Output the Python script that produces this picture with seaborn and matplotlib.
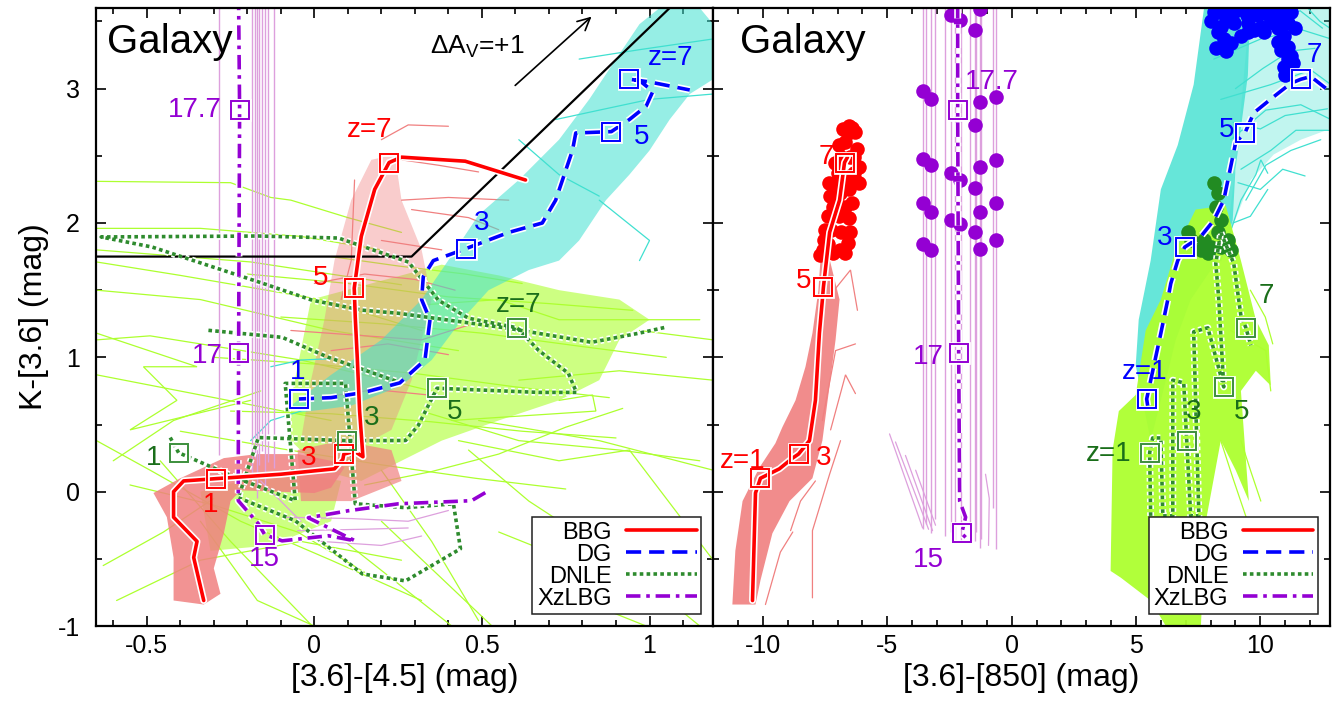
import matplotlib
matplotlib.use("Agg")
import matplotlib.pyplot as plt
import matplotlib.patheffects as pe
from matplotlib.lines import Line2D
from matplotlib.ticker import MultipleLocator, FuncFormatter
import seaborn as sns

sns.set_theme(style="ticks")
plt.rcParams["font.family"] = ["Liberation Sans", "DejaVu Sans"]
plt.rcParams["mathtext.fontset"] = "custom"
plt.rcParams["mathtext.rm"] = "Liberation Sans"
plt.rcParams["mathtext.it"] = "Liberation Sans:italic"
plt.rcParams["axes.edgecolor"] = "black"
plt.rcParams["text.color"] = "black"
plt.rcParams["axes.labelcolor"] = "black"
plt.rcParams["xtick.color"] = "black"
plt.rcParams["ytick.color"] = "black"

C_BBG, C_DG, C_DNLE, C_XZ = "#FF0000", "#0000FF", "#2E8B2E", "#9400D3"
C_DNLE_TXT, C_DNLE_SQ = "#1A6E1A", "#3C8F3C"
C_SAL, C_TURQ, C_GY, C_PLUM = "#F08080", "#40E0D0", "#ADFF2F", "#DDA0DD"

SERIES = ["BBG", "DG", "DNLE", "XzLBG"]

# ------------------------------------------------------------------
# Left panel: K-[3.6] versus [3.6]-[4.5]
# ------------------------------------------------------------------
BBG_L_X = [-0.33, -0.36, -0.35, -0.42, -0.42, -0.39, -0.294, -0.10, 0.06, 0.085, 0.088,
           0.12, 0.145, 0.135, 0.128, 0.122, 0.119, 0.14, 0.18, 0.223, 0.26, 0.45, 0.63]
BBG_L_Y = [-0.81, -0.49, -0.37, -0.19, 0.0, 0.08, 0.097, 0.13, 0.17, 0.24, 0.28,
           0.30, 0.26, 0.6, 1.0, 1.3, 1.515, 1.9, 2.25, 2.45, 2.49, 2.46, 2.32]
BBG_L_SQ_X = [-0.294, 0.088, 0.119, 0.223]
BBG_L_SQ_Y = [0.097, 0.28, 1.515, 2.45]

DG_L_X = [-0.046, 0.05, 0.15, 0.255, 0.33, 0.345, 0.32, 0.325, 0.355, 0.453, 0.58, 0.68,
          0.72, 0.77, 0.78, 0.886, 0.94, 0.99, 1.01, 0.97, 0.94, 1.0, 1.12]
DG_L_Y = [0.69, 0.70, 0.74, 0.81, 0.98, 1.28, 1.43, 1.60, 1.72, 1.81, 1.93, 2.0,
          2.17, 2.54, 2.67, 2.68, 2.77, 2.87, 2.98, 3.06, 3.07, 3.05, 2.99]
DG_L_SQ_X = [-0.046, 0.453, 0.886, 0.94]
DG_L_SQ_Y = [0.69, 1.81, 2.68, 3.07]

DNLE_L_X = [-0.430, -0.405, -0.227, -0.057, -0.087, 0.093, 0.122, 0.272, 0.415, 0.436,
            0.272, 0.143, -0.057, -0.227, -0.167, 0.097, 0.272, 0.310, 0.366, 0.669,
            0.782, 0.758, 0.669, 0.605, 0.460, 0.370, 0.281, 0.072, -0.167, -0.636,
            -0.484, -0.155, -0.006, 0.143, 0.251, 0.579, 0.827, 0.967, 1.048]
DNLE_L_Y = [0.403, 0.29, 0.097, -0.067, 0.806, 0.806, -0.090, -0.119, -0.090, -0.425,
            -0.664, -0.612, -0.216, -0.045, 0.403, 0.38, 0.381, 0.493, 0.77, 0.739,
            0.739, 0.881, 1.052, 1.22, 1.291, 1.425, 1.709, 1.888, 1.903, 1.896,
            1.821, 1.552, 1.425, 1.351, 1.328, 1.216, 1.112, 1.179, 1.224]
DNLE_L2_X = [-0.316, -0.096, 0.042, 0.263]
DNLE_L2_Y = [1.201, 1.149, 1.0, 0.806]
DNLE_L_SQ_X = [-0.405, 0.097, 0.366, 0.605]
DNLE_L_SQ_Y = [0.29, 0.38, 0.77, 1.22]

XZ_L_X = [0.510, 0.469, 0.251, 0.101, -0.018, 0.122, 0.042, -0.096, -0.148, -0.167,
          -0.227, -0.227, -0.226, -0.223, -0.226]
XZ_L_Y = [-0.007, -0.067, -0.090, -0.142, -0.194, -0.366, -0.328, -0.366, -0.32, -0.239,
          -0.067, 0.134, 1.03, 2.84, 3.66]
XZ_L_SQ_X = [-0.148, -0.226, -0.223]
XZ_L_SQ_Y = [-0.32, 1.03, 2.84]

# redshift labels: (x, y, text)
LAB_L = {
    "BBG": [(0.166, 2.69, "z=7"), (0.02, 1.59, "5"), (-0.016, 0.25, "3"), (-0.31, -0.10, "1")],
    "DG": [(1.063, 3.23, "z=7"), (0.976, 2.64, "5"), (0.50, 2.0, "3"), (-0.05, 0.89, "1")],
    "DNLE": [(0.61, 1.39, "z=7"), (0.418, 0.59, "5"), (0.17, 0.545, "3"), (-0.48, 0.25, "1")],
    "XzLBG": [(-0.357, 2.84, "17.7"), (-0.32, 1.01, "17"), (-0.15, -0.50, "15")],
}

# model envelopes (left)
GY_FILL_L1_X = [-0.01, 0.20, 0.38, 0.55, 0.73, 0.91, 1.00, 0.91, 0.85, 0.73, 0.55, 0.38,
                0.26, 0.14, 0.02, -0.07, -0.07]
GY_FILL_L1_Y = [1.43, 1.57, 1.69, 1.61, 1.50, 1.43, 1.28, 1.13, 0.83, 0.68, 0.53, 0.38,
                0.23, 0.08, 0.16, 0.38, 0.68]
GY_FILL_L2_X = [-0.34, -0.10, 0.08, 0.05, -0.13, -0.31]
GY_FILL_L2_Y = [0.0, 0.16, 0.08, -0.22, -0.40, -0.44]

SAL_FILL_L1_X = [-0.48, -0.40, -0.27, -0.17, -0.05, 0.05, 0.09, 0.05, 0.0, -0.22, -0.25,
                 -0.27, -0.30, -0.28, -0.33, -0.42, -0.42, -0.44]
SAL_FILL_L1_Y = [-0.01, 0.10, 0.25, 0.28, 0.28, 0.23, 0.18, 0.03, -0.01, 0.01, -0.07,
                 -0.31, -0.57, -0.76, -0.84, -0.81, -0.49, -0.19]
SAL_FILL_L2_X = [-0.05, 0.08, 0.23, 0.26, 0.11, -0.04]
SAL_FILL_L2_Y = [0.31, 0.38, 0.31, 0.08, -0.07, -0.07]
SAL_FILL_L3_X = [-0.04, -0.01, 0.03, 0.06, 0.11, 0.17, 0.24, 0.26, 0.32, 0.35, 0.29, 0.23, 0.14]
SAL_FILL_L3_Y = [0.38, 0.83, 1.28, 1.72, 2.17, 2.47, 2.51, 2.17, 1.80, 1.43, 0.83, 0.46, 0.34]

TURQ_FILL_L_X = [-0.07, 0.05, 0.20, 0.32, 0.41, 0.49, 0.61, 0.73, 0.82, 0.90, 0.97, 1.03,
                 1.15, 1.19, 1.19, 1.12, 1.06, 1.00, 0.94, 0.87, 0.79, 0.73, 0.64, 0.52,
                 0.44, 0.35, 0.26, 0.11, -0.04]
TURQ_FILL_L_Y = [0.64, 0.87, 1.13, 1.43, 1.76, 2.06, 2.32, 2.62, 2.92, 3.22, 3.48, 3.60,
                 3.60, 3.48, 3.07, 2.96, 2.77, 2.54, 2.36, 2.17, 1.87, 1.72, 1.65, 1.50,
                 1.28, 0.98, 0.79, 0.64, 0.59]

GY_LINES_L = [
    ([-0.65, -0.25, -0.13, -0.07, 0.10, 0.26], [2.31, 2.30, 2.19, 2.17, 2.04, 1.93]),
    ([-0.65, -0.34, -0.04, 0.20], [1.96, 1.96, 1.90, 1.80]),
    ([-0.65, -0.19, 0.26], [1.80, 1.71, 1.54]),
    ([-0.65, -0.40, 0.02, 0.32], [1.71, 1.61, 1.43, 1.20]),
    ([-0.65, -0.34, 0.05, 0.43], [1.50, 1.43, 1.20, 1.05]),
    ([-0.65, -0.49, -0.04, 0.35], [1.13, 1.16, 0.98, 0.75]),
    ([-0.65, -0.34, 0.05], [0.87, 0.72, 0.53]),
    ([-0.65, -0.35, -0.51, -0.41, -0.55, -0.19], [1.18, 0.93, 0.93, 0.68, 0.46, 0.68]),
    ([-0.60, -0.42, -0.16], [0.23, 0.53, 0.75]),
    ([-0.46, -0.25, -0.01], [0.23, -0.37, -0.99]),
    ([-0.59, -0.34, -0.04, 0.26], [-0.81, -0.51, -0.37, -0.51]),
    ([-0.65, -0.49, -0.22, 0.05, 0.32], [0.38, 0.16, -0.22, -0.51, -0.81]),
    ([-0.34, -0.17, 0.0], [-0.22, -0.81, -1.0]),
    ([0.05, 0.41], [-0.29, -1.0]),
    ([0.20, 0.53], [-0.22, -1.0]),
    ([0.73, 0.99], [-0.74, -1.0]),
    ([0.49, 0.85, 1.19], [0.53, 0.38, 0.16]),
    ([0.61, 0.91, 1.19], [0.83, 0.90, 0.83]),
    ([0.43, 0.73, 0.94, 1.19], [0.38, 0.23, 0.31, -0.51]),
    ([0.46, 0.64, 0.91, 1.15], [0.31, -0.07, -0.51, -1.0]),
    ([0.73, 0.83, 0.84, 0.41], [0.68, 0.72, 0.60, 0.53]),
    ([0.32, 0.61, 0.91, 1.15], [0.60, 0.38, 0.31, 0.23]),
    ([0.20, 0.35, 0.49], [0.16, -0.37, -0.96]),
    ([0.97, 1.19], [1.20, 1.13]),
    ([0.32, 0.55, 0.73, 1.15], [1.39, 1.43, 1.28, 1.28]),
    ([-0.20, 0.10, 0.40, 0.70, 0.95], [1.62, 1.55, 1.45, 1.40, 1.35]),
    ([-0.10, 0.20, 0.50, 0.80, 1.05], [1.30, 1.25, 1.18, 1.08, 1.00]),
    ([-0.30, 0.00, 0.30, 0.60, 0.88], [1.00, 0.95, 0.88, 0.78, 0.70]),
    ([-0.25, 0.05, 0.35, 0.62, 0.90], [0.60, 0.58, 0.52, 0.45, 0.40]),
    ([-0.40, -0.10, 0.20, 0.48, 0.75], [0.45, 0.32, 0.20, 0.10, 0.02]),
    ([0.05, 0.25, 0.45, 0.62], [1.75, 1.68, 1.62, 1.55]),
    ([0.15, 0.35, 0.55, 0.75, 0.92], [0.05, 0.15, 0.28, 0.48, 0.62]),
    ([-0.55, -0.30, -0.05, 0.15], [0.05, -0.10, -0.30, -0.60]),
    ([-0.63, -0.45, -0.30], [-0.55, -0.30, -0.05]),
    ([0.55, 0.70, 0.85, 1.00], [-0.30, -0.45, -0.55, -0.70]),
]
SAL_LINES_L = [
    ([0.20, 0.28, 0.40], [2.62, 2.73, 2.72]),
    ([0.26, 0.37, 0.49], [2.47, 2.43, 2.38]),
    ([0.26, 0.40, 0.58], [2.17, 2.19, 2.17]),
    ([0.29, 0.46, 0.55], [2.10, 2.04, 1.95]),
    ([0.20, 0.38], [1.87, 1.80]),
    ([0.12, 0.11, 0.08], [2.32, 1.72, 1.43]),
    ([-0.07, 0.32, 0.46], [1.20, 1.13, 1.24]),
    ([0.00, 0.15, 0.30, 0.42], [1.55, 1.62, 1.58, 1.50]),
    ([0.02, 0.18, 0.34], [0.70, 0.76, 0.72]),
    ([0.05, 0.22, 0.40], [1.05, 1.10, 1.02]),
]
TURQ_LINES_L = [
    ([0.72, 0.85, 1.00, 1.19], [2.77, 2.84, 2.92, 2.96]),
    ([0.79, 0.97, 1.19], [3.22, 3.29, 3.37]),
    ([0.61, 0.73, 0.85], [2.62, 2.36, 2.20]),
    ([0.85, 1.00, 0.97], [2.17, 1.87, 1.72]),
    ([-0.13, -0.04, 0.05], [0.93, 0.98, 0.99]),
    ([-0.19, -0.13, -0.04], [0.38, 0.53, 0.60]),
]
PLUM_L_X = [-0.285, -0.187, -0.178, -0.172, -0.166, -0.157, -0.148, -0.139, -0.121]
PLUM_L_BOT = [0.27, 0.10, 0.25, -0.05, 0.20, 0.30, 0.0, 0.22, 0.18]
PLUM_LINES_L = [
    ([-0.09, 0.11, 0.28, 0.40], [-0.19, -0.20, -0.22, -0.14]),
    ([-0.05, 0.14, 0.28], [-0.29, -0.28, -0.27]),
    ([0.02, 0.20, 0.32], [-0.37, -0.40, -0.33]),
    ([-0.16, -0.10, -0.04], [0.08, -0.07, -0.22]),
]

# colour-cut boundary and extinction vector (left)
CUT_X = [-0.65, 0.29, 1.06]
CUT_Y = [1.75, 1.75, 3.60]
AV_TAIL = (0.593, 3.01)
AV_HEAD = (0.833, 3.55)

# ------------------------------------------------------------------
# Right panel: K-[3.6] versus [3.6]-[850]
# ------------------------------------------------------------------
BBG_R_X = [-10.42, -10.30, -10.10, -9.34, -8.81, -8.57, -8.13, -7.89, -7.73, -7.61, -7.57,
           -7.32, -6.92, -6.72, -6.60]
BBG_R_Y = [-0.81, -0.01, 0.10, 0.17, 0.25, 0.28, 0.38, 0.68, 1.18, 1.43, 1.52,
           1.93, 2.17, 2.45, 2.49]
BBG_R_SQ_X = [-10.10, -8.57, -7.57, -6.72]
BBG_R_SQ_Y = [0.10, 0.28, 1.52, 2.45]
BBG_DOT_X = [-7.69, -7.40, -7.28, -7.40, -7.20, -6.72, -6.48, -6.52, -6.72, -6.92, -6.68,
             -6.32, -6.12, -6.28, -7.00, -6.88, -6.72, -6.60, -6.40, -6.28, -6.48, -7.08,
             -7.53, -6.88, -6.32, -7.60, -7.50, -7.30, -7.10, -7.10, -6.95, -6.80, -6.55,
             -6.20, -6.15, -6.40, -6.60, -6.90, -7.20, -7.35, -6.95, -6.75, -6.55]
BBG_DOT_Y = [1.76, 1.84, 1.95, 2.05, 2.12, 1.78, 1.93, 2.04, 2.12, 2.22, 2.27,
             2.37, 2.42, 2.32, 2.37, 2.49, 2.60, 2.67, 2.71, 2.68, 2.49, 2.17,
             1.87, 1.93, 2.49, 1.80, 1.95, 2.20, 2.30, 2.45, 2.58, 2.70, 2.72,
             2.55, 2.30, 2.15, 1.85, 1.80, 1.78, 2.30, 2.05, 2.35, 2.25]

DG_R_X = [5.47, 5.43, 5.71, 6.00, 6.28, 6.40, 6.68, 6.96, 7.61, 8.13, 8.53, 8.81, 9.01,
          9.38, 9.74, 10.54, 11.23, 11.63, 12.03, 12.72]
DG_R_Y = [0.64, 0.69, 0.93, 1.18, 1.43, 1.55, 1.72, 1.82, 1.90, 2.02, 2.17, 2.42, 2.60,
          2.67, 2.82, 2.94, 3.04, 3.07, 3.09, 2.99]
DG_R_SQ_X = [5.43, 6.96, 9.38, 11.63]
DG_R_SQ_Y = [0.69, 1.82, 2.67, 3.07]
DG_DOT_X = [8.13, 8.29, 8.69, 9.22, 9.74, 10.30, 10.82, 11.23, 8.41, 8.93, 9.50, 10.02,
            10.54, 11.11, 8.53, 8.81, 9.22, 9.74, 10.14, 10.95, 11.11, 11.23, 11.31, 10.95,
            11.11, 10.82, 8.00, 8.30, 8.60, 9.00, 9.45, 9.90, 10.40, 10.70, 10.90, 11.40,
            11.00, 10.70, 9.50, 8.20, 8.60]
DG_DOT_Y = [3.57, 3.57, 3.57, 3.59, 3.59, 3.59, 3.59, 3.57, 3.46, 3.49, 3.49, 3.46,
            3.49, 3.49, 3.37, 3.34, 3.39, 3.44, 3.42, 3.39, 3.31, 3.24, 3.19, 3.16,
            3.22, 3.29, 3.50, 3.42, 3.50, 3.58, 3.55, 3.55, 3.53, 3.45, 3.55, 3.45,
            3.10, 3.35, 3.42, 3.30, 3.28]

DNLE_R_X = [5.59, 5.55, 5.67, 6.00, 6.08, 6.48, 6.48, 6.92, 7.04, 7.20, 7.53, 7.32, 7.89,
            8.53, 8.33, 8.21, 8.41, 8.93, 9.22, 9.42, 9.62]
DNLE_R_Y = [-0.18, 0.29, 0.40, 0.40, -0.18, -0.18, 0.83, 0.81, 0.38, -0.18, -0.18, 1.19,
            1.22, 0.78, 1.43, 1.70, 1.93, 1.70, 1.31, 1.22, 1.09]
DNLE_R_SQ_X = [5.55, 7.04, 8.53, 9.42]
DNLE_R_SQ_Y = [0.29, 0.38, 0.78, 1.22]
DNLE_DOT_X = [8.13, 8.29, 8.21, 8.41, 8.29, 8.01, 7.89, 7.61, 7.08, 7.20, 8.69, 8.81, 8.41, 7.73]
DNLE_DOT_Y = [2.30, 2.22, 2.12, 2.02, 1.93, 1.82, 1.78, 1.80, 1.93, 1.87, 1.87, 1.80, 1.82, 1.87]

XZ_R_X = [-2.17, -2.17, -2.13, -2.09, -1.85, -2.01, -1.85]
XZ_R_Y = [3.63, 2.84, 1.03, -0.07, -0.19, -0.31, -0.34]
XZ_R_SQ_X = [-2.01, -2.13, -2.17]
XZ_R_SQ_Y = [-0.31, 1.03, 2.84]
XZ_DOT_X = [-3.58, -3.26, -3.58, -3.26, -3.58, -3.26, -3.58, -3.26,
            -2.45, -2.09, -2.45, -2.09, -2.45, -2.09,
            -1.29, -1.49, -1.29, -1.49, -1.29, -1.49, -1.29, -1.49, -1.29,
            -0.64, -0.64, -0.64, -0.64]
XZ_DOT_Y = [2.98, 2.92, 2.48, 2.43, 2.15, 2.08, 1.84, 1.80,
            3.55, 3.51, 2.37, 2.32, 2.02, 1.99,
            3.59, 3.44, 2.90, 2.73, 2.42, 2.26, 2.08, 1.93, 1.81,
            2.94, 2.47, 2.15, 1.87]

LAB_R = {
    "BBG": [(-7.44, 2.49, "7"), (-8.37, 1.57, "5"), (-7.57, 0.25, "3"), (-10.83, 0.23, "z=1")],
    "DG": [(12.19, 3.25, "7"), (8.65, 2.69, "5"), (6.16, 1.89, "3"), (5.35, 0.89, "z=1")],
    "DNLE": [(10.26, 1.46, "7"), (9.26, 0.59, "5"), (7.32, 0.59, "3"), (3.90, 0.28, "z=1")],
    "XzLBG": [(-0.80, 3.05, "17.7"), (-3.34, 1.0, "17"), (-3.34, -0.51, "15")],
}

SAL_FILL_R_X = [-11.23, -11.11, -10.82, -10.14, -9.50, -9.22, -8.69, -8.29, -8.01, -7.77,
                -7.69, -7.36, -6.92, -7.08, -7.61, -8.01, -8.93, -9.62, -10.10, -10.30]
SAL_FILL_R_Y = [-0.84, -0.44, -0.07, 0.18, 0.36, 0.48, 0.68, 0.93, 1.18, 1.50,
                1.72, 1.76, 1.43, 1.13, 0.38, 0.10, -0.07, -0.31, -0.66, -0.84]
SAL_LINES_R = [
    ([-8.01, -8.01, -7.32, -6.88], [-0.79, -0.29, 0.13, 0.38]),
    ([-7.61, -7.08, -6.28], [0.53, 1.05, 1.10]),
    ([-7.28, -6.68, -6.28], [0.46, 0.87, 0.73]),
    ([-8.89, -8.49, -7.89], [-0.29, -0.07, 0.08]),
    ([-7.44, -6.48, -6.20], [1.43, 1.65, 1.35]),
    ([-9.9, -9.3, -8.8], [-0.84, -0.45, -0.30]),
]

TURQ_FILL_R_X = [5.59, 4.99, 5.11, 5.59, 6.00, 6.68, 7.32, 7.73, 7.81, 9.6, 9.5, 9.0,
                 8.89, 8.61, 8.01, 7.20, 6.60, 6.00]
TURQ_FILL_R_Y = [0.38, 0.94, 1.28, 1.72, 2.25, 2.58, 3.03, 3.59, 3.63, 3.63, 3.1, 2.4,
                 2.02, 1.84, 1.65, 1.43, 1.13, 0.68]
TURQ_SPREAD_R_X = [8.61, 9.62, 10.54, 11.63, 12.8, 12.8, 9.6, 9.0]
TURQ_SPREAD_R_Y = [1.84, 2.32, 2.51, 2.62, 2.70, 3.63, 3.63, 2.4]
TURQ_LINES_R = [
    ([8.13, 10.02, 11.63, 12.84], [3.22, 3.37, 3.44, 3.37]),
    ([8.41, 10.42, 12.03, 12.84], [2.92, 3.03, 3.14, 3.03]),
    ([8.81, 10.22, 11.63, 12.84], [2.62, 2.84, 2.88, 2.77]),
    ([9.22, 10.42, 11.43, 12.84], [2.40, 2.54, 2.69, 2.69]),
    ([9.42, 10.22, 11.23, 12.43], [2.17, 2.43, 2.54, 2.62]),
    ([8.41, 9.22, 9.82, 10.02, 10.30], [1.72, 2.17, 2.36, 2.47, 2.37]),
    ([9.6, 10.6, 11.6, 12.5], [3.55, 3.50, 3.58, 3.45]),
    ([9.0, 10.1, 11.2, 12.2], [3.0, 3.15, 3.28, 3.30]),
    ([8.9, 10.0, 11.0, 12.7], [2.75, 2.70, 2.80, 2.85]),
    ([9.1, 10.0, 10.9, 11.8], [2.30, 2.25, 2.40, 2.35]),
    ([8.9, 9.6, 10.3], [2.0, 2.05, 2.25]),
    ([11.8, 12.4, 12.8], [3.62, 3.50, 3.45]),
]

GY_FILL_R_X = [3.98, 4.06, 4.31, 4.99, 5.39, 6.00, 6.60, 7.40, 8.61, 9.22, 9.82, 10.34,
               10.42, 9.82, 9.22, 9.54, 9.01, 8.41, 7.81, 7.61, 6.20, 5.59, 4.39]
GY_FILL_R_Y = [-0.59, 0.31, 0.60, 0.72, 1.20, 1.43, 1.80, 2.10, 2.13, 1.72, 1.28, 1.09,
               0.79, 0.90, 0.75, -0.07, 0.16, 0.38, -0.22, -1.0, -1.0, -0.81, -0.64]
GY_LINES_R = [
    ([8.81, 10.22, 10.42], [1.20, 1.05, 0.75]),
    ([9.22, 9.62, 10.02], [0.38, 0.15, -0.07]),
    ([8.41, 8.9, 9.54], [0.38, 0.1, -0.25]),
    ([9.6, 10.2, 10.5], [1.5, 1.3, 1.1]),
]

PLUM_R_X = [-3.58, -3.46, -3.26, -3.10, -2.66, -2.45, -2.29, -2.05, -1.69, -1.49, -1.45,
            -1.29, -1.25, -0.76, -0.64]
PLUM_R_BOT = [-0.28, -0.24, -0.31, -0.20, -0.33, -0.30, -0.36, -0.38, -0.25, -0.37, -0.30,
              -0.42, -0.35, -0.12, -0.43]
PLUM_LINES_R = [
    ([-4.91, -3.58], [0.43, -0.27]),
    ([-4.67, -3.34], [0.37, -0.28]),
    ([-4.27, -3.18], [0.27, -0.29]),
    ([-3.86, -3.06], [0.16, -0.25]),
    ([-1.05, -0.90, -0.93], [0.13, -0.05, -0.40]),
]

TRACK_STYLE = {
    "BBG": dict(color=C_BBG, ls="-"),
    "DG": dict(color=C_DG, ls=(0, (4.2, 2.2))),
    "DNLE": dict(color=C_DNLE, ls=(0, (1.0, 0.9))),
    "XzLBG": dict(color=C_XZ, ls=(0, (4.0, 1.6, 1.0, 1.6))),
}
SQ_COLOR = {"BBG": C_BBG, "DG": C_DG, "DNLE": C_DNLE_SQ, "XzLBG": C_XZ}
TXT_COLOR = {"BBG": C_BBG, "DG": C_DG, "DNLE": C_DNLE_TXT, "XzLBG": C_XZ}
LW = 2.6


def thin_lines(ax, lines, color, lw=0.9, z=2):
    for xs, ys in lines:
        ax.plot(xs, ys, color=color, lw=lw, zorder=z, solid_joinstyle="miter")


def envelope(ax, xs, ys, color, alpha, z=1):
    ax.fill(xs, ys, color=color, alpha=alpha, lw=0, zorder=z)


def track(ax, xs, ys, name):
    st = TRACK_STYLE[name]
    sns.lineplot(x=xs, y=ys, ax=ax, sort=False, estimator=None, color=st["color"],
                 linestyle=st["ls"], lw=LW, zorder=6,
                 path_effects=[pe.Stroke(linewidth=LW + 2.4, foreground="white"), pe.Normal()])


def squares(ax, xs, ys, name):
    ax.plot(xs, ys, ls="none", marker="s", ms=12.5, mfc="none", mec="white", mew=3.4, zorder=7)
    ax.plot(xs, ys, ls="none", marker="s", ms=12.5, mfc="none", mec=SQ_COLOR[name],
            mew=1.4, zorder=8)


def labels(ax, items, name):
    for x, y, s in items:
        ax.text(x, y, s, color=TXT_COLOR[name], fontsize=20, ha="center", va="center", zorder=9)


def dots(ax, xs, ys, color):
    sns.scatterplot(x=xs, y=ys, ax=ax, color=color, s=110, linewidth=0, zorder=5)


def legend(ax):
    handles = [Line2D([], [], color=TRACK_STYLE[n]["color"], ls=TRACK_STYLE[n]["ls"], lw=LW)
               for n in SERIES]
    leg = ax.legend(handles, SERIES, loc="lower right", markerfirst=False, fontsize=17,
                    handlelength=3.0, handletextpad=0.6, labelspacing=0.0, borderpad=0.2,
                    borderaxespad=0.5, fancybox=False, edgecolor="#202020", framealpha=1.0)
    leg.get_frame().set_linewidth(1.1)
    leg.set_zorder(20)


fig, (axl, axr) = plt.subplots(1, 2, sharey=True, figsize=(13.4, 7.11), dpi=100)
fig.subplots_adjust(left=0.072, right=0.9925, bottom=0.1195, top=0.9887, wspace=0)

# ---- left panel ----
envelope(axl, GY_FILL_L1_X, GY_FILL_L1_Y, C_GY, 0.6)
envelope(axl, GY_FILL_L2_X, GY_FILL_L2_Y, C_GY, 0.6)
thin_lines(axl, GY_LINES_L, C_GY)
envelope(axl, SAL_FILL_L1_X, SAL_FILL_L1_Y, C_SAL, 0.85, z=2.1)
envelope(axl, SAL_FILL_L2_X, SAL_FILL_L2_Y, C_SAL, 0.7, z=2.1)
envelope(axl, SAL_FILL_L3_X, SAL_FILL_L3_Y, C_SAL, 0.4, z=2.1)
thin_lines(axl, SAL_LINES_L, C_SAL, z=2.2)
envelope(axl, TURQ_FILL_L_X, TURQ_FILL_L_Y, C_TURQ, 0.55, z=2.3)
thin_lines(axl, TURQ_LINES_L, C_TURQ, z=2.4)
axl.vlines(PLUM_L_X, PLUM_L_BOT, 3.7, color=C_PLUM, lw=1.0, zorder=2.5)
thin_lines(axl, PLUM_LINES_L, C_PLUM, z=2.5)

axl.plot(CUT_X, CUT_Y, color="black", lw=1.6, zorder=4)
axl.annotate("", xy=AV_HEAD, xytext=AV_TAIL,
             arrowprops=dict(arrowstyle="->", color="black", lw=1.2, mutation_scale=22))
axl.text(0.345, 3.31, r"$\Delta$A$_{\rm V}$=+1", fontsize=19, ha="left", va="center")

track(axl, DNLE_L_X, DNLE_L_Y, "DNLE")
track(axl, DNLE_L2_X, DNLE_L2_Y, "DNLE")
track(axl, XZ_L_X, XZ_L_Y, "XzLBG")
track(axl, DG_L_X, DG_L_Y, "DG")
track(axl, BBG_L_X, BBG_L_Y, "BBG")
for name, sx, sy in [("BBG", BBG_L_SQ_X, BBG_L_SQ_Y), ("DG", DG_L_SQ_X, DG_L_SQ_Y),
                     ("DNLE", DNLE_L_SQ_X, DNLE_L_SQ_Y), ("XzLBG", XZ_L_SQ_X, XZ_L_SQ_Y)]:
    squares(axl, sx, sy, name)
    labels(axl, LAB_L[name], name)

# ---- right panel ----
envelope(axr, SAL_FILL_R_X, SAL_FILL_R_Y, C_SAL, 0.9)
thin_lines(axr, SAL_LINES_R, C_SAL)
envelope(axr, TURQ_FILL_R_X, TURQ_FILL_R_Y, C_TURQ, 0.8, z=2.1)
envelope(axr, TURQ_SPREAD_R_X, TURQ_SPREAD_R_Y, C_TURQ, 0.32, z=2.1)
thin_lines(axr, TURQ_LINES_R, C_TURQ, z=2.2)
envelope(axr, GY_FILL_R_X, GY_FILL_R_Y, C_GY, 0.95, z=2.3)
thin_lines(axr, GY_LINES_R, C_GY, z=2.4)
axr.vlines(PLUM_R_X, PLUM_R_BOT, 3.7, color=C_PLUM, lw=1.0, zorder=2.5)
thin_lines(axr, PLUM_LINES_R, C_PLUM, z=2.5)

dots(axr, BBG_DOT_X, BBG_DOT_Y, C_BBG)
dots(axr, DG_DOT_X, DG_DOT_Y, C_DG)
dots(axr, DNLE_DOT_X, DNLE_DOT_Y, "#228B22")
dots(axr, XZ_DOT_X, XZ_DOT_Y, C_XZ)

track(axr, DNLE_R_X, DNLE_R_Y, "DNLE")
track(axr, XZ_R_X, XZ_R_Y, "XzLBG")
track(axr, DG_R_X, DG_R_Y, "DG")
track(axr, BBG_R_X, BBG_R_Y, "BBG")
for name, sx, sy in [("BBG", BBG_R_SQ_X, BBG_R_SQ_Y), ("DG", DG_R_SQ_X, DG_R_SQ_Y),
                     ("DNLE", DNLE_R_SQ_X, DNLE_R_SQ_Y), ("XzLBG", XZ_R_SQ_X, XZ_R_SQ_Y)]:
    squares(axr, sx, sy, name)
    labels(axr, LAB_R[name], name)

# ---- axes ----
axl.set_xlim(-0.65, 1.19)
axr.set_xlim(-12.0, 12.8)
axl.set_ylim(-1.0, 3.6)
axl.xaxis.set_major_locator(MultipleLocator(0.5))
axl.xaxis.set_minor_locator(MultipleLocator(0.1))
axr.xaxis.set_major_locator(MultipleLocator(5))
axr.xaxis.set_minor_locator(MultipleLocator(1))
axl.yaxis.set_major_locator(MultipleLocator(1))
axl.yaxis.set_minor_locator(MultipleLocator(0.5))

for ax in (axl, axr):
    ax.tick_params(which="both", direction="in", top=True, right=True, width=1.2,
                   labelsize=18)
    ax.tick_params(which="major", length=7)
    ax.tick_params(which="minor", length=4)
    ax.tick_params(axis="x", pad=6)
    ax.tick_params(axis="y", pad=12)
    for sp in ax.spines.values():
        sp.set_linewidth(1.6)
        sp.set_color("black")
        sp.set_zorder(30)
    legend(ax)

axr.tick_params(axis="y", labelleft=False)
fmt = FuncFormatter(lambda v, p: f"{v:g}")
axl.xaxis.set_major_formatter(fmt)
axr.xaxis.set_major_formatter(fmt)
axl.yaxis.set_major_formatter(fmt)

axl.set_xlabel("[3.6]-[4.5] (mag)", fontsize=23, labelpad=3)
axr.set_xlabel("[3.6]-[850] (mag)", fontsize=23, labelpad=3)
axl.set_ylabel("K-[3.6] (mag)", fontsize=23, labelpad=6)

axl.text(0.017, 0.975, "Galaxy", transform=axl.transAxes, fontsize=29, ha="left", va="top",
         zorder=10)
axr.text(0.044, 0.975, "Galaxy", transform=axr.transAxes, fontsize=29, ha="left", va="top",
         zorder=10)

fig.savefig("out.png", dpi=100)
